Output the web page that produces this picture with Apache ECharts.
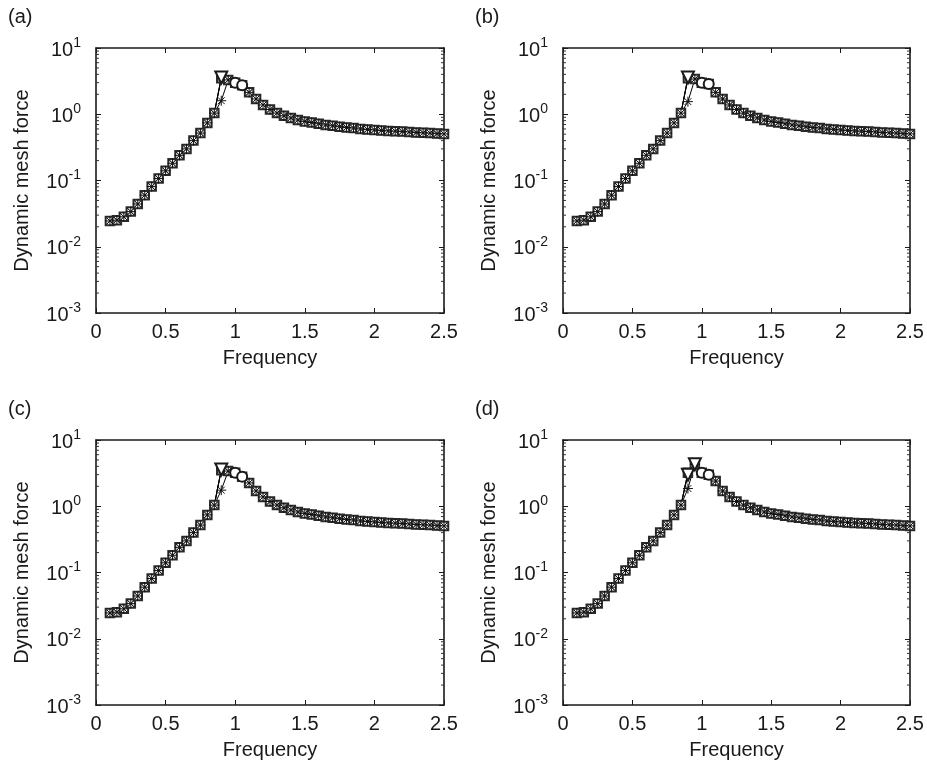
<!DOCTYPE html>
<html><head><meta charset="utf-8">
<script src="https://cdn.jsdelivr.net/npm/echarts@6/dist/echarts.min.js"></script>
<style>html,body{margin:0;background:#fff}#c{width:927px;height:774px}</style>
</head><body><div id="c"></div>
<script>
// ---- data ----
const freq = [0.1,0.15,0.2,0.25,0.3,0.35,0.4,0.45,0.5,0.55,0.6,0.65,0.7,0.75,0.8,0.85,0.9,0.95,1.0,1.05,1.1,1.15,1.2,1.25,1.3,1.35,1.4,1.45,1.5,1.55,1.6,1.65,1.7,1.75,1.8,1.85,1.9,1.95,2.0,2.05,2.1,2.15,2.2,2.25,2.3,2.35,2.4,2.45,2.5];
const baseForce = [0.0245,0.0252,0.0283,0.0339,0.0442,0.060,0.081,0.107,0.140,0.182,0.240,0.300,0.400,0.520,0.740,1.04,3.5,3.3,3.0,2.75,2.14,1.70,1.38,1.18,1.04,0.95,0.88,0.82,0.78,0.75,0.72,0.69,0.67,0.65,0.63,0.62,0.60,0.59,0.58,0.57,0.56,0.555,0.55,0.54,0.53,0.525,0.52,0.51,0.505];
const peakFreq = [0.9,0.95,1.0,1.05,1.1];
const squarePeakA = [3.5,3.3,3.0,2.75,2.14];
const squarePeakB = [3.5,3.4,3.0,2.85,2.14];
const squarePeakC = [3.5,3.4,3.2,2.8,2.25];
const squarePeakD = [3.2,4.3,3.2,3.0,2.4];
const starAt090 = [1.6,1.55,1.75,1.85];
const triangleAt090 = [3.6,3.6,3.6,3.0];
const triangleMarkFreq = [[0.9],[0.9],[0.9],[0.9,0.95]];
const circleMarkFreq = [1.0,1.05];
const panelLabels = ['(a)','(b)','(c)','(d)'];
const yRange = [0.001,10];
const minorMantissa = [2,3,4,5,6,7,8,9];
const decadeExp = [-3,-2,-1,0];

// ---- build ----
const squarePeaks = [squarePeakA,squarePeakB,squarePeakC,squarePeakD];
const FONT = 'Liberation Sans, Arial, Helvetica, sans-serif';
const FS = 20;
const grids = [
  {left:96, top:48, width:348, height:265},
  {left:563, top:48, width:347, height:265},
  {left:96, top:440, width:348, height:265},
  {left:563, top:440, width:347, height:265}
];
const near = (a,b)=>Math.abs(a-b)<1e-9;
function curve(peak){
  return freq.map((f,i)=>{
    const k = peakFreq.findIndex(p=>near(p,f));
    return [f, k>=0 ? peak[k] : baseForce[i]];
  });
}
const minorVals = [];
decadeExp.forEach(e=>minorMantissa.forEach(m=>minorVals.push(m*Math.pow(10,e))));

const crossPath = 'path://M0,0L10,10M0,10L10,0';
const starPath = 'path://M5,0L5,10M0,5L10,5M1.6,1.6L8.4,8.4M1.6,8.4L8.4,1.6';
const lineStyle = {color:'#000', width:1};
const AX = '#1a1a1a';

const xAxis=[], yAxis=[], series=[], graphic=[];
grids.forEach((g,p)=>{
  const xBase = {gridIndex:p, type:'value', min:0, max:2.5, interval:0.5,
    axisLine:{show:true, onZero:false, lineStyle:{color:AX, width:1.6}},
    axisTick:{show:true, inside:true, length:5, lineStyle:{color:AX}},
    splitLine:{show:false}};
  xAxis.push(Object.assign({}, xBase, {position:'bottom',
    name:'Frequency', nameLocation:'middle', nameGap:35,
    nameTextStyle:{fontFamily:FONT, fontSize:FS, color:'#1a1a1a'},
    axisLabel:{show:true, margin:9, fontFamily:FONT, fontSize:FS, color:'#1a1a1a',
      formatter:v=>String(v)}}));
  xAxis.push(Object.assign({}, xBase, {position:'top', axisLabel:{show:false}}));
  const yBase = {gridIndex:p, type:'log', logBase:10, min:yRange[0], max:yRange[1],
    axisLine:{show:true, onZero:false, lineStyle:{color:AX, width:1.6}},
    axisTick:{show:true, inside:true, length:5, lineStyle:{color:AX}},
    minorTick:{show:false},
    splitLine:{show:false}};
  yAxis.push(Object.assign({}, yBase, {position:'left',
    name:'Dynamic mesh force', nameLocation:'middle', nameGap:64,
    nameTextStyle:{fontFamily:FONT, fontSize:FS, color:'#1a1a1a'},
    axisLabel:{show:true, margin:15,
      formatter:v=>'{b|10}{s|'+Math.round(Math.log10(v))+'}',
      rich:{b:{fontFamily:FONT, fontSize:FS, color:'#1a1a1a', lineHeight:24, verticalAlign:'bottom'},
            s:{fontFamily:FONT, fontSize:14, color:'#1a1a1a', lineHeight:24, verticalAlign:'top'}}}}));
  yAxis.push(Object.assign({}, yBase, {position:'right', axisLabel:{show:false}}));

  const xi = p*2, yi = p*2;
  const sq = squarePeaks[p];
  const main = curve(sq);
  const star = main.map(d=> near(d[0],0.9) ? [d[0], starAt090[p]] : d);
  const f085 = main.find(d=>near(d[0],0.85))[1];
  const triData = [[0.85,f085],[0.9,triangleAt090[p]],[0.95,sq[1]]];
  const cirData = [[0.95,sq[1]],[1.0,sq[2]],[1.05,sq[3]],[1.1,sq[4]]];
  const common = {type:'line', xAxisIndex:xi, yAxisIndex:yi, lineStyle, silent:true, animation:false, showAllSymbol:true};

  // minor log ticks on left and right frame edges
  series.push({type:'custom', xAxisIndex:xi, yAxisIndex:yi, silent:true, animation:false,
    data: minorVals.map(v=>[0,v]), encode:{x:0, y:1}, clip:false,
    renderItem:(params, api)=>{
      const v = api.value(1);
      const pl = api.coord([0, v]);
      const pr = api.coord([2.5, v]);
      return {type:'group', children:[
        {type:'line', shape:{x1:pl[0], y1:pl[1], x2:pl[0]+3, y2:pl[1]}, style:{stroke:'#333', lineWidth:1}},
        {type:'line', shape:{x1:pr[0]-3, y1:pr[1], x2:pr[0], y2:pr[1]}, style:{stroke:'#333', lineWidth:1}}
      ]};
    }});

  series.push(Object.assign({}, common, {data:main, symbol:'emptyRect', symbolSize:8.5,
    itemStyle:{color:'#2a2a2a', borderWidth:1}}));
  series.push(Object.assign({}, common, {data:main, symbol:crossPath, symbolSize:7,
    itemStyle:{color:'rgba(0,0,0,0)', borderColor:'#2a2a2a', borderWidth:0.9}}));
  series.push(Object.assign({}, common, {data:star, symbol:starPath, symbolSize:10,
    itemStyle:{color:'rgba(0,0,0,0)', borderColor:'#111', borderWidth:1}}));
  series.push(Object.assign({}, common, {data:triData,
    symbol:(v)=> triangleMarkFreq[p].some(f=>near(f,v[0])) ? 'emptyTriangle' : 'none',
    symbolRotate:180, symbolSize:12,
    itemStyle:{color:'#1a1a1a', borderWidth:0.9}}));
  series.push(Object.assign({}, common, {data:cirData,
    symbol:(v)=> circleMarkFreq.some(f=>near(f,v[0])) ? 'emptyCircle' : 'none',
    symbolSize:10,
    itemStyle:{color:'#1a1a1a', borderWidth:0.9}}));

  graphic.push({type:'text', left: g.left-88, top: g.top-41,
    style:{text:panelLabels[p], font:FS+'px '+FONT, fill:'#1a1a1a'}});
});

const chart = echarts.init(document.getElementById('c'), null, {renderer:'canvas'});
chart.setOption({
  backgroundColor:'#fff',
  animation:false,
  grid: grids.map(g=>Object.assign({containLabel:false}, g)),
  xAxis, yAxis, series, graphic
});
</script></body></html>
